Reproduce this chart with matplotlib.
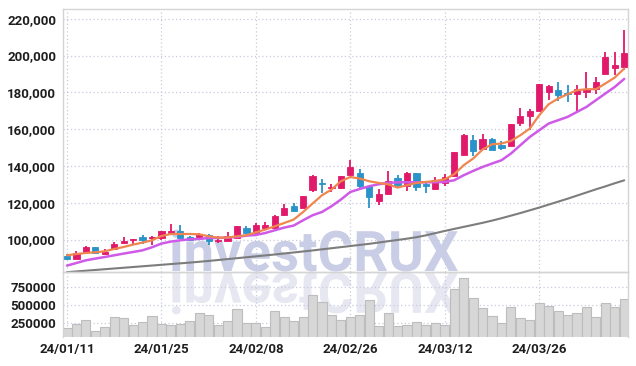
import matplotlib
matplotlib.use("Agg")
import matplotlib.pyplot as plt
import numpy as np
from matplotlib.textpath import TextPath
from matplotlib.patches import PathPatch
from matplotlib.font_manager import FontProperties
from matplotlib.transforms import Affine2D, IdentityTransform
from matplotlib.ticker import FuncFormatter, FixedLocator

opens = [90900, 89300, 93100, 95800, 92400, 94730, 98150, 99600, 101250, 100870,
         101090, 103420, 104510, 101410, 101250, 102340, 99460, 99240, 100870, 106520,
         103590, 106140, 106520, 113370, 118480, 117170, 126790, 130600, 127880, 128040,
         134950, 136040, 129350, 120980, 125000, 133320, 128970, 136040, 130060, 127500,
         130760, 134400, 146200, 153970, 149080, 154680, 151250, 150710, 163210, 167180,
         170110, 180220, 181150, 179680, 179350, 180440, 181690, 190220, 193260, 193800]
highs = [92400, 93800, 96350, 96200, 94900, 98500, 101600, 100540, 102500, 101800,
         104900, 108700, 107770, 101800, 103590, 102880, 101800, 103970, 107230, 107230,
         109240, 109780, 113370, 119570, 120110, 123910, 134950, 133150, 130440, 134780,
         143480, 138590, 129350, 127500, 137120, 135330, 136580, 136040, 131310, 134030,
         135490, 147830, 157600, 157060, 157600, 155440, 153590, 163040, 171740, 171200,
         184570, 184240, 185490, 184240, 184240, 190770, 188060, 201960, 201960, 213750]
lows = [88750, 89300, 92700, 92900, 92200, 94730, 97800, 97600, 97600, 96900,
        100000, 103260, 100700, 99240, 100700, 97280, 98150, 99240, 100870, 103420,
        103420, 105760, 106520, 112660, 115380, 117170, 126090, 125330, 126090, 127340,
        134570, 127500, 117390, 118640, 125000, 127880, 126630, 126250, 125540, 126800,
        128970, 134400, 146200, 145270, 149080, 148910, 148910, 150710, 161960, 159780,
        169730, 175710, 175160, 174790, 169730, 177180, 178970, 190220, 189300, 191900]
closes = [89450, 92930, 95800, 92900, 93500, 97600, 99240, 100540, 99600, 101250,
          104670, 104510, 101090, 100000, 103040, 99240, 100000, 101800, 107230, 103420,
          107770, 107770, 112660, 117170, 115540, 123910, 134400, 130060, 128590, 134400,
          139290, 129130, 123150, 124620, 131690, 129680, 136040, 128590, 129130, 132230,
          133860, 147450, 156690, 148150, 154890, 148910, 149620, 162670, 167020, 169900,
          184570, 183310, 178430, 179350, 181850, 182070, 185490, 199080, 194730, 201250]
ma_short = [91470, 92170, 92720, 93100, 93640, 94900, 95980, 97280, 98370, 99620,
            101960, 103040, 103040, 103040, 102880, 101800, 101090, 101090, 101800, 102340,
            103970, 105440, 107230, 109020, 110870, 115000, 119570, 124080, 127180, 131690,
            134030, 133150, 131690, 130760, 130060, 128260, 129510, 130760, 131310, 131850,
            132770, 135490, 140380, 144020, 148910, 151790, 152180, 153590, 156690, 160330,
            167560, 173540, 176630, 178970, 181150, 181690, 181690, 184780, 188040, 192930]
ma_mid = [85870, 87280, 88750, 89670, 90540, 91470, 92390, 93260, 94180, 95820,
          97830, 98910, 99620, 100160, 100330, 100870, 100870, 101090, 101410, 102170,
          102500, 103590, 105050, 106520, 107610, 110490, 113210, 115000, 118100, 121740,
          125870, 127500, 128970, 130060, 130760, 131140, 131140, 131140, 131140, 131140,
          131310, 132230, 134950, 137280, 139460, 141300, 143100, 146720, 151250, 155760,
          159400, 163040, 164840, 166650, 169360, 172070, 175710, 179350, 182940, 187290]
ma_long = [82300, 82700, 83100, 83500, 83900, 84300, 84700, 85100, 85500, 85900,
           86300, 86700, 87100, 87500, 87950, 88400, 88900, 89400, 89900, 90400,
           90900, 91400, 91900, 92450, 93000, 93550, 94100, 94700, 95300, 95900,
           96500, 97100, 97700, 98400, 99100, 99800, 100500, 101300, 102300, 103500,
           104700, 105800, 106900, 108000, 109100, 110300, 111600, 113000, 114400, 115900,
           117400, 119000, 120600, 122200, 123900, 125600, 127300, 128900, 130600, 132200]
volumes = [172000, 232000, 283000, 135000, 186000, 325000, 311000, 214000, 260000, 339000,
           232000, 214000, 232000, 274000, 380000, 352000, 214000, 269000, 436000, 246000,
           246000, 186000, 408000, 325000, 274000, 325000, 635000, 533000, 357000, 283000,
           325000, 357000, 561000, 200000, 380000, 200000, 218000, 260000, 218000, 246000,
           218000, 714000, 867000, 589000, 450000, 339000, 246000, 464000, 311000, 283000,
           519000, 478000, 408000, 352000, 380000, 464000, 325000, 519000, 464000, 575000]
date_ticks = [0, 10, 20, 30, 40, 50]
date_labels = ['24/01/11', '24/01/25', '24/02/08', '24/02/26', '24/03/12', '24/03/26']
price_ticks = [100000, 120000, 140000, 160000, 180000, 200000, 220000]
volume_ticks = [250000, 500000, 750000]

UP = '#e1196a'
DOWN = '#2a93c9'
GRID = '#c9cbdc'
SPINE = '#d4d4d4'
TXT = '#1e1e1e'
FONT = ['Roboto', 'DejaVu Sans']

W, H = 636, 366
fig = plt.figure(figsize=(W / 100, H / 100), dpi=100)
fig.patch.set_facecolor('white')

# watermark (behind axes)
fp = FontProperties(family=FONT, weight='bold')
tp = TextPath((0, 0), 'investCRUX', size=56, prop=fp)
bb = tp.get_extents()
sx = 286.0 / bb.width
x0, base = 172.0, H - 271.0
main_tr = Affine2D().translate(-bb.x0, 0).scale(sx, 1.0).translate(x0, base)
refl_tr = Affine2D().translate(-bb.x0, 0).scale(sx, -1.0).translate(x0, base - 2)
fig.patches.append(PathPatch(main_tr.transform_path(tp), transform=IdentityTransform(),
                             facecolor='#c9cee6', edgecolor='none', zorder=-5, figure=fig))
fig.patches.append(PathPatch(refl_tr.transform_path(tp), transform=IdentityTransform(),
                             facecolor='#e6e7f1', edgecolor='none', zorder=-5, figure=fig))

left, right = 63 / W, 628 / W
ax = fig.add_axes([left, (H - 272.3) / H, right - left, (272.3 - 9.3) / H])
axv = fig.add_axes([left, (H - 337.3) / H, right - left, (337.3 - 272.3) / H], sharex=ax)
for a in (ax, axv):
    a.set_facecolor('none')
    for s in a.spines.values():
        s.set_color(SPINE)
        s.set_linewidth(1.0)
    a.tick_params(length=0, colors=TXT, labelsize=9.5, pad=5)
    a.grid(True, color=GRID, linestyle=(0, (1, 2)), linewidth=0.9)
    a.set_axisbelow(True)
axv.spines['bottom'].set_visible(False)

x = np.arange(len(closes))
o = np.array(opens); c = np.array(closes)
colors = [UP if cc >= oo else DOWN for oo, cc in zip(o, c)]
bottoms = np.minimum(o, c)
heights = np.maximum(np.abs(c - o), 400)

ax.plot(x, ma_long, color='#7d7d7d', lw=1.5, zorder=2, solid_capstyle='round')
ax.vlines(x, lows, highs, colors=colors, linewidth=1.3, zorder=3)
ax.bar(x, heights, bottom=bottoms, width=0.66, color=colors, edgecolor=colors,
       linewidth=0.6, zorder=4)
ax.plot(x, ma_mid, color='#cf5ae8', lw=1.8, zorder=5, solid_capstyle='round')
ax.plot(x, ma_short, color='#f0864f', lw=1.6, zorder=6, solid_capstyle='round')

ax.set_xlim(-0.42, 59.4)
ax.set_ylim(82230, 225100)
ax.yaxis.set_major_locator(FixedLocator(price_ticks))
ax.yaxis.set_major_formatter(FuncFormatter(lambda v, p: f'{int(v):,}'))
ax.xaxis.set_major_locator(FixedLocator(date_ticks))
plt.setp(ax.get_xticklabels(), visible=False)

axv.bar(x, volumes, width=0.96, color='#d7d7d7', edgecolor='#bdbdbd', linewidth=0.8, zorder=2)
axv.set_ylim(47000, 950000)
axv.yaxis.set_major_locator(FixedLocator(volume_ticks))
axv.yaxis.set_major_formatter(FuncFormatter(lambda v, p: f'{int(v)}'))
axv.set_xticks(date_ticks)
axv.set_xticklabels(date_labels)
axv.tick_params(axis='x', pad=4)

for a in (ax, axv):
    for lab in a.get_yticklabels() + a.get_xticklabels():
        lab.set_family(FONT)
        lab.set_fontweight('bold')

fig.savefig('out.png', dpi=100, facecolor='white')
